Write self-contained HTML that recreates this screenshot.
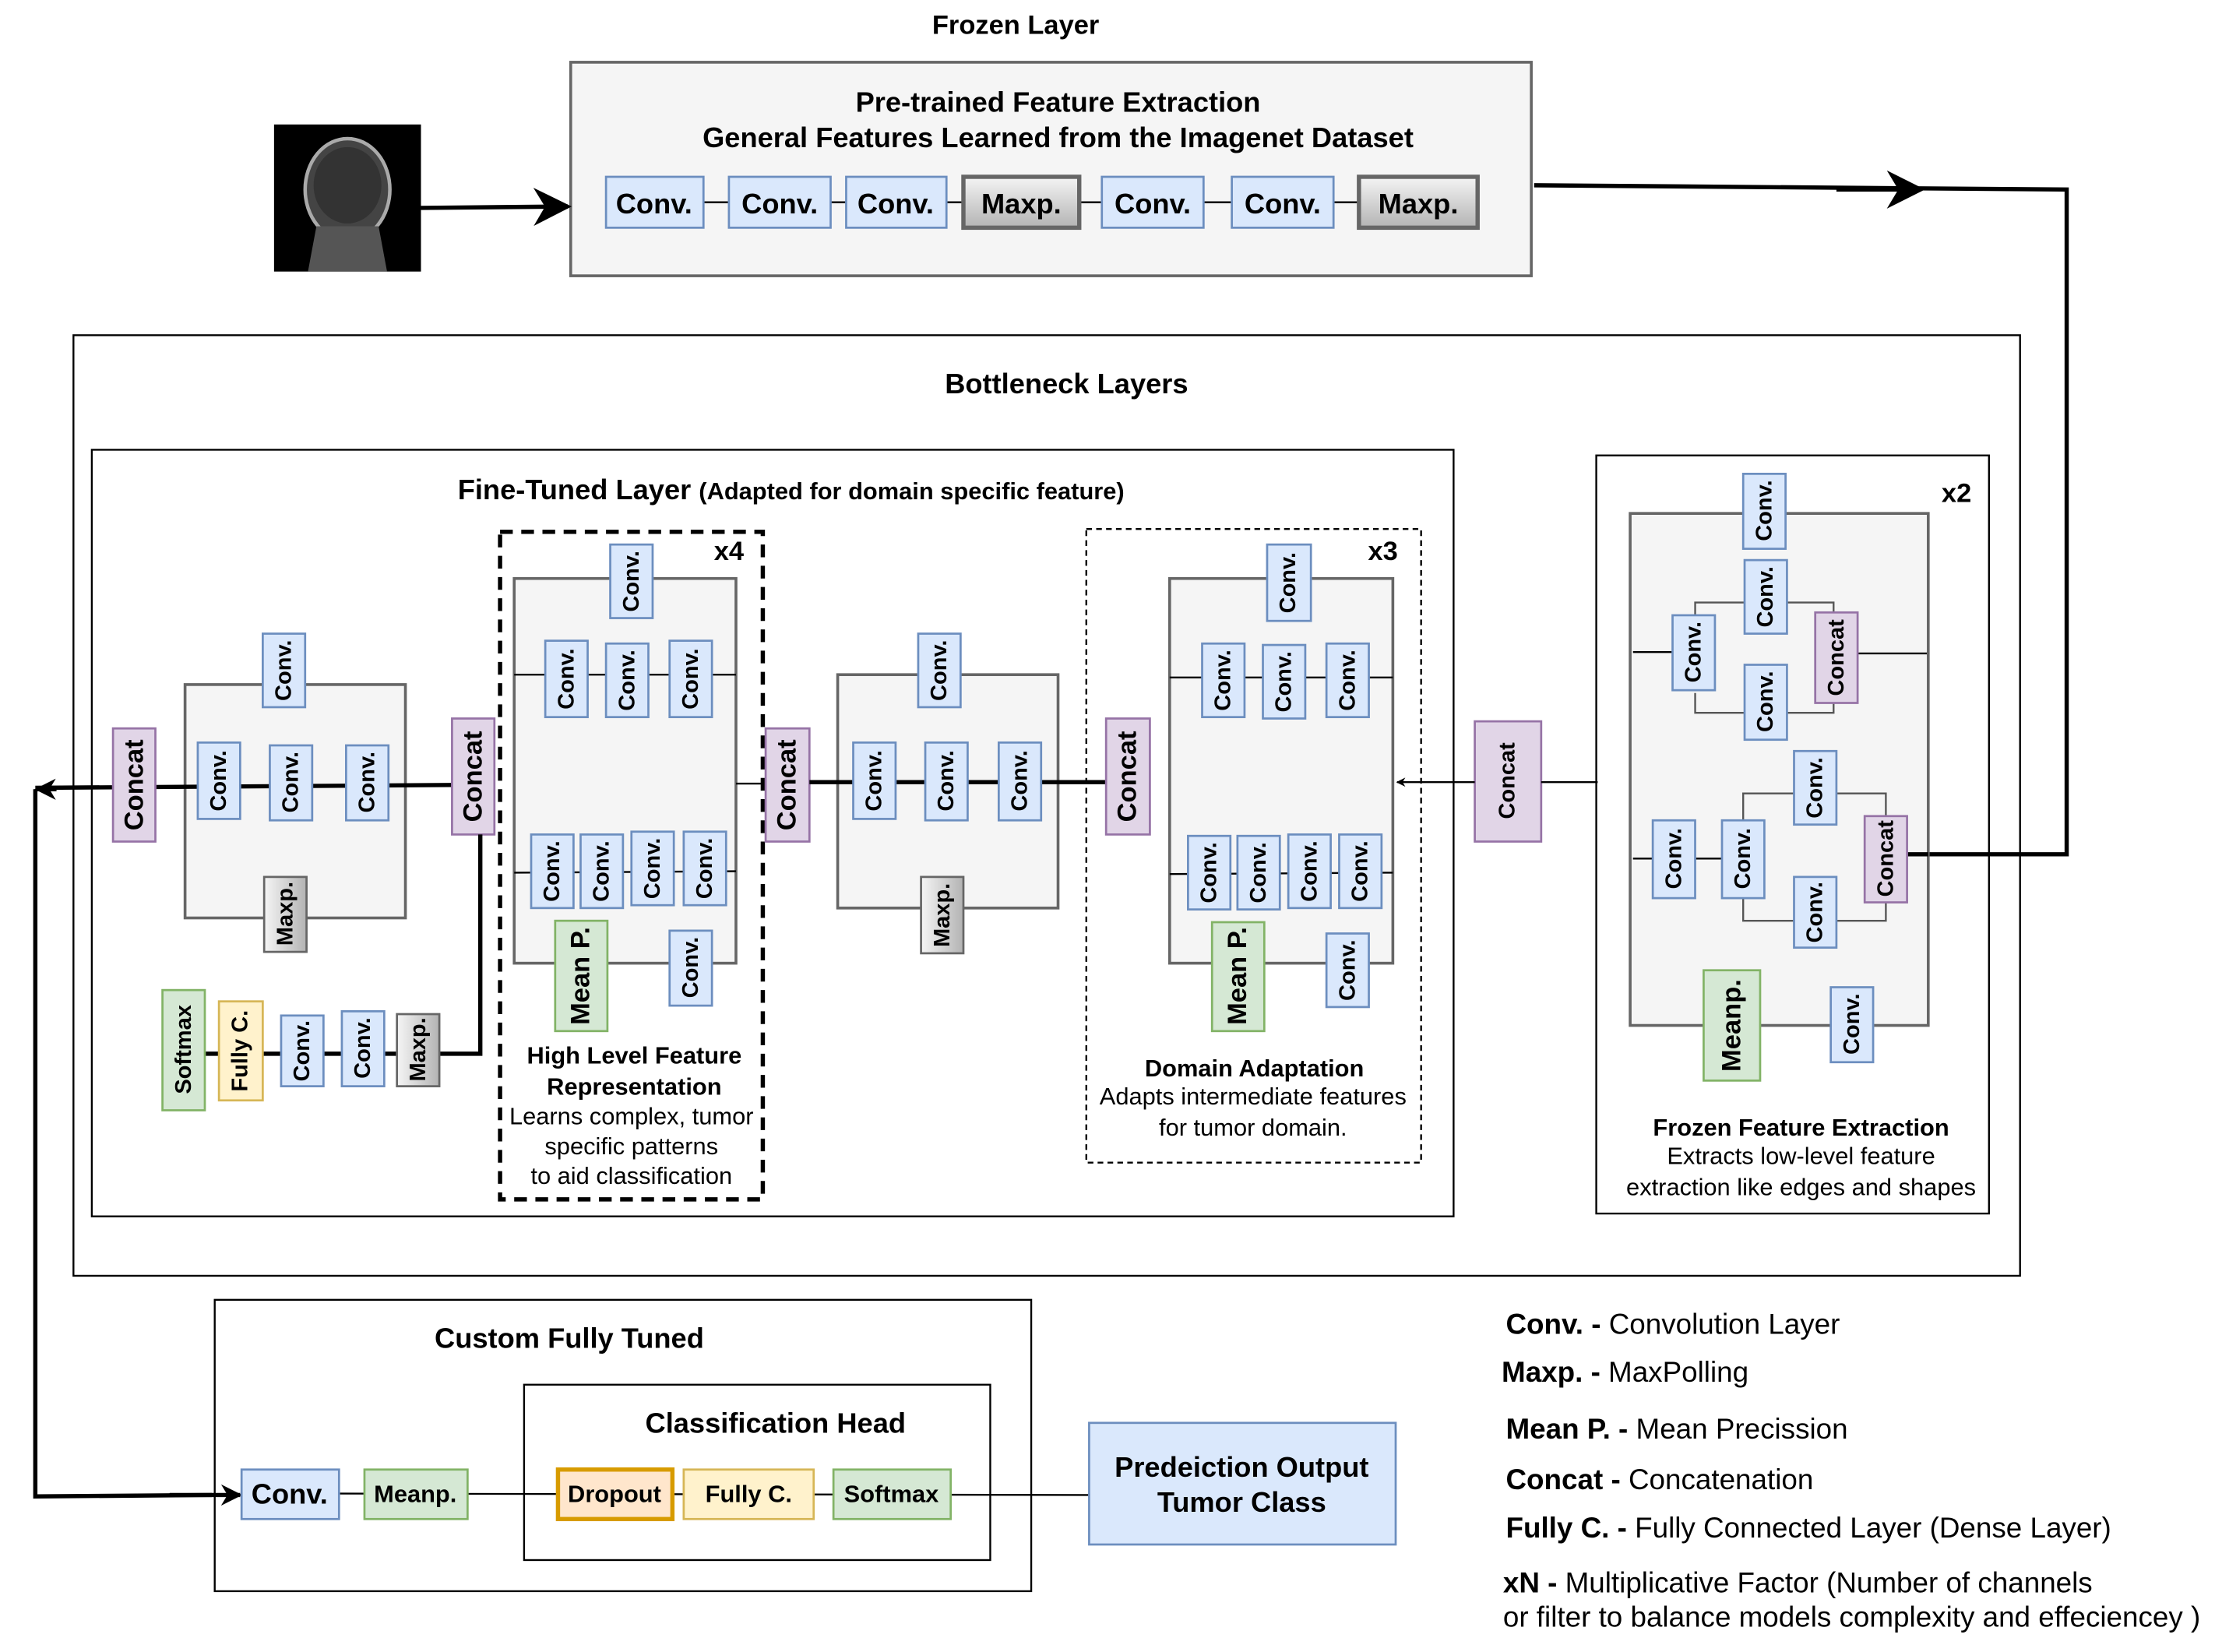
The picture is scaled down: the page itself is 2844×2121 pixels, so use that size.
<!DOCTYPE html>
<html><head><meta charset="utf-8"><style>
html,body{margin:0;padding:0;background:#fff}
svg{display:block}
text{font-family:"Liberation Sans",sans-serif;fill:#000}
.b{font-weight:bold}
.cv{fill:#dae8fc;stroke:#6c8ebf;stroke-width:1.5}
.cc{fill:#e1d5e7;stroke:#9673a6;stroke-width:1.5}
.mx{fill:url(#g);stroke:#666;stroke-width:1.5}
.gr{fill:#d5e8d4;stroke:#82b366;stroke-width:1.5}
.ye{fill:#fff2cc;stroke:#d6b656;stroke-width:1.5}
.or{fill:#ffe6cc;stroke:#d79b00;stroke-width:3}
.gb{fill:#f5f5f5;stroke:#666;stroke-width:2}
.ln{stroke:#000;stroke-width:1.3;fill:none}
.tk{stroke:#000;stroke-width:3;fill:none}
.gl{stroke:#555;stroke-width:1.3;fill:none}
.v{font-weight:bold;font-size:16px}
.vc{font-weight:bold;font-size:19px}
</style></head><body>
<svg width="2844" height="2121" viewBox="0 0 1568 1168" preserveAspectRatio="none" xmlns="http://www.w3.org/2000/svg">
<defs>
<linearGradient id="g" x1="0" y1="0" x2="1" y2="0"><stop offset="0" stop-color="#f5f5f5"/><stop offset="1" stop-color="#b3b3b3"/></linearGradient>
<linearGradient id="g2" x1="0" y1="0" x2="0" y2="1"><stop offset="0" stop-color="#f5f5f5"/><stop offset="1" stop-color="#b3b3b3"/></linearGradient>
<marker id="ar" viewBox="0 0 10 10" refX="9" refY="5" markerWidth="5" markerHeight="5" orient="auto-start-reverse"><path d="M0,0 L10,5 L0,10 L3,5 z" fill="#000"/></marker>
<marker id="ar2" viewBox="0 0 10 10" refX="9" refY="5" markerWidth="9" markerHeight="9" orient="auto"><path d="M0,0 L10,5 L0,10 L3,5 z" fill="#000"/></marker>
</defs>

<!-- Frozen layer -->
<text x="719" y="24" text-anchor="middle" class="b" font-size="19">Frozen Layer</text>
<rect x="404" y="44" width="680" height="151" class="gb" stroke-width="1.3"/>
<text x="749" y="79" text-anchor="middle" class="b" font-size="20">Pre-trained Feature Extraction</text>
<text x="749" y="104" text-anchor="middle" class="b" font-size="20">General Features Learned from the Imagenet Dataset</text>
<line x1="498" y1="143" x2="962" y2="143" class="ln"/>
<g font-size="20" font-weight="bold" text-anchor="middle">
<rect x="429" y="125" width="69" height="36" class="cv" stroke-width="3"/><text x="463" y="151">Conv.</text>
<rect x="516" y="125" width="72" height="36" class="cv" stroke-width="3"/><text x="552" y="151">Conv.</text>
<rect x="599" y="125" width="71" height="36" class="cv" stroke-width="3"/><text x="634" y="151">Conv.</text>
<rect x="682" y="125" width="82" height="36" fill="url(#g2)" stroke="#666" stroke-width="3"/><text x="723" y="151">Maxp.</text>
<rect x="780" y="125" width="72" height="36" class="cv" stroke-width="3"/><text x="816" y="151">Conv.</text>
<rect x="872" y="125" width="72" height="36" class="cv" stroke-width="3"/><text x="908" y="151">Conv.</text>
<rect x="962" y="125" width="84" height="36" fill="url(#g2)" stroke="#666" stroke-width="3"/><text x="1004" y="151">Maxp.</text>
</g>
<!-- MRI -->
<rect x="194" y="88" width="104" height="104" fill="#000"/>
<ellipse cx="246" cy="134" rx="30" ry="36" fill="#444" stroke="#aaa" stroke-width="2.5"/>
<ellipse cx="246" cy="131" rx="24" ry="27" fill="#333"/>
<path d="M224,160 L268,160 L274,192 L218,192 z" fill="#555"/>
<line x1="298" y1="147" x2="402" y2="146" class="tk" marker-end="url(#ar2)" stroke-width="3.5"/>
<polyline points="1086,131 1463,134 1463,604 1362,604" class="tk"/>
<line x1="1300" y1="134" x2="1360" y2="134" class="tk" marker-end="url(#ar2)"/>

<!-- Bottleneck -->
<rect x="52" y="237" width="1378" height="665" fill="none" stroke="#000" stroke-width="1.3"/>
<text x="755" y="278" text-anchor="middle" class="b" font-size="20">Bottleneck Layers</text>
<rect x="65" y="318" width="964" height="542" fill="none" stroke="#000" stroke-width="1.3"/>
<text x="560" y="353" text-anchor="middle" class="b" font-size="20">Fine-Tuned Layer <tspan font-size="17">(Adapted for domain specific feature)</tspan></text>

<!-- left block -->
<rect x="131" y="484" width="156" height="165" class="gb"/>
<line x1="25" y1="557" x2="320" y2="555" class="tk" stroke-width="3.5"/>
<line x1="40" y1="558" x2="26" y2="558" class="tk" marker-end="url(#ar)"/>
<rect x="186" y="448" width="30" height="52" class="cv"/><text class="v" transform="translate(201,474) rotate(-90)" text-anchor="middle" dominant-baseline="central">Conv.</text>
<rect x="140" y="525" width="30" height="54" class="cv"/><text class="v" transform="translate(155,552) rotate(-90)" text-anchor="middle" dominant-baseline="central">Conv.</text>
<rect x="191" y="527" width="30" height="53" class="cv"/><text class="v" transform="translate(206,553) rotate(-90)" text-anchor="middle" dominant-baseline="central">Conv.</text>
<rect x="245" y="527" width="30" height="53" class="cv"/><text class="v" transform="translate(260,553) rotate(-90)" text-anchor="middle" dominant-baseline="central">Conv.</text>
<rect x="187" y="620" width="30" height="53" class="mx"/><text class="v" font-size="15" transform="translate(202,646) rotate(-90)" text-anchor="middle" dominant-baseline="central">Maxp.</text>
<rect x="80" y="515" width="30" height="80" class="cc"/><text class="vc" transform="translate(95,555) rotate(-90)" text-anchor="middle" dominant-baseline="central">Concat</text>
<rect x="320" y="508" width="30" height="82" class="cc"/><text class="vc" transform="translate(335,549) rotate(-90)" text-anchor="middle" dominant-baseline="central">Concat</text>
<polyline points="145,745 340,745 340,590" class="tk"/>
<rect x="115" y="700" width="30" height="85" class="gr"/><text class="v" font-size="15" transform="translate(130,742) rotate(-90)" text-anchor="middle" dominant-baseline="central">Softmax</text>
<rect x="155" y="708" width="31" height="70" class="ye"/><text class="v" transform="translate(170,743) rotate(-90)" text-anchor="middle" dominant-baseline="central">Fully C.</text>
<rect x="199" y="718" width="30" height="50" class="cv"/><text class="v" transform="translate(214,743) rotate(-90)" text-anchor="middle" dominant-baseline="central">Conv.</text>
<rect x="242" y="715" width="30" height="53" class="cv"/><text class="v" transform="translate(257,741) rotate(-90)" text-anchor="middle" dominant-baseline="central">Conv.</text>
<rect x="281" y="717" width="30" height="51" class="mx"/><text class="v" font-size="15" transform="translate(296,742) rotate(-90)" text-anchor="middle" dominant-baseline="central">Maxp.</text>

<!-- x4 block -->
<rect x="354" y="376" width="186" height="472" fill="none" stroke="#000" stroke-width="3" stroke-dasharray="9,6"/>
<text x="516" y="396" text-anchor="middle" class="b" font-size="19">x4</text>
<rect x="364" y="409" width="157" height="272" class="gb" stroke-width="1.5"/>
<line x1="364" y1="477" x2="521" y2="477" class="ln"/>
<line x1="364" y1="617" x2="521" y2="616" class="ln"/>
<line x1="521" y1="554" x2="542" y2="554" class="ln"/>
<rect x="432" y="385" width="30" height="52" class="cv"/><text class="v" transform="translate(447,411) rotate(-90)" text-anchor="middle" dominant-baseline="central">Conv.</text>
<rect x="386" y="453" width="30" height="54" class="cv"/><text class="v" transform="translate(401,480) rotate(-90)" text-anchor="middle" dominant-baseline="central">Conv.</text>
<rect x="429" y="455" width="30" height="52" class="cv"/><text class="v" transform="translate(444,481) rotate(-90)" text-anchor="middle" dominant-baseline="central">Conv.</text>
<rect x="474" y="453" width="30" height="54" class="cv"/><text class="v" transform="translate(489,480) rotate(-90)" text-anchor="middle" dominant-baseline="central">Conv.</text>
<rect x="376" y="590" width="30" height="52" class="cv"/><text class="v" transform="translate(391,616) rotate(-90)" text-anchor="middle" dominant-baseline="central">Conv.</text>
<rect x="411" y="590" width="30" height="52" class="cv"/><text class="v" transform="translate(426,616) rotate(-90)" text-anchor="middle" dominant-baseline="central">Conv.</text>
<rect x="447" y="588" width="30" height="52" class="cv"/><text class="v" transform="translate(462,614) rotate(-90)" text-anchor="middle" dominant-baseline="central">Conv.</text>
<rect x="484" y="588" width="30" height="52" class="cv"/><text class="v" transform="translate(499,614) rotate(-90)" text-anchor="middle" dominant-baseline="central">Conv.</text>
<rect x="393" y="651" width="37" height="78" class="gr"/><text class="vc" transform="translate(411,690) rotate(-90)" text-anchor="middle" dominant-baseline="central">Mean P.</text>
<rect x="474" y="658" width="30" height="53" class="cv"/><text class="v" transform="translate(489,684) rotate(-90)" text-anchor="middle" dominant-baseline="central">Conv.</text>
<g text-anchor="middle" font-size="17">
<text x="449" y="752" class="b">High Level Feature</text>
<text x="449" y="774" class="b">Representation</text>
<text x="447" y="795">Learns complex, tumor</text>
<text x="447" y="816">specific patterns</text>
<text x="447" y="837">to aid classification</text>
</g>

<!-- middle -->
<rect x="542" y="515" width="31" height="80" class="cc"/><text class="vc" transform="translate(557,555) rotate(-90)" text-anchor="middle" dominant-baseline="central">Concat</text>
<rect x="593" y="477" width="156" height="165" class="gb"/>
<line x1="573" y1="553" x2="783" y2="553" class="tk"/>
<rect x="650" y="448" width="30" height="52" class="cv"/><text class="v" transform="translate(665,474) rotate(-90)" text-anchor="middle" dominant-baseline="central">Conv.</text>
<rect x="604" y="525" width="30" height="54" class="cv"/><text class="v" transform="translate(619,552) rotate(-90)" text-anchor="middle" dominant-baseline="central">Conv.</text>
<rect x="655" y="525" width="30" height="55" class="cv"/><text class="v" transform="translate(670,552) rotate(-90)" text-anchor="middle" dominant-baseline="central">Conv.</text>
<rect x="707" y="525" width="30" height="55" class="cv"/><text class="v" transform="translate(722,552) rotate(-90)" text-anchor="middle" dominant-baseline="central">Conv.</text>
<rect x="652" y="620" width="30" height="54" class="mx"/><text class="v" font-size="15" transform="translate(667,647) rotate(-90)" text-anchor="middle" dominant-baseline="central">Maxp.</text>
<rect x="783" y="508" width="31" height="82" class="cc"/><text class="vc" transform="translate(798,549) rotate(-90)" text-anchor="middle" dominant-baseline="central">Concat</text>

<!-- x3 -->
<rect x="769" y="374" width="237" height="448" fill="none" stroke="#000" stroke-width="1.3" stroke-dasharray="4,3"/>
<text x="979" y="396" text-anchor="middle" class="b" font-size="19">x3</text>
<rect x="828" y="409" width="158" height="272" class="gb" stroke-width="3"/>
<line x1="828" y1="479" x2="986" y2="479" class="ln"/>
<line x1="828" y1="618" x2="986" y2="617" class="ln"/>
<rect x="897" y="385" width="31" height="54" class="cv" stroke-width="2.5"/><text class="v" transform="translate(912,412) rotate(-90)" text-anchor="middle" dominant-baseline="central">Conv.</text>
<rect x="851" y="455" width="30" height="52" class="cv"/><text class="v" transform="translate(866,481) rotate(-90)" text-anchor="middle" dominant-baseline="central">Conv.</text>
<rect x="894" y="456" width="30" height="52" class="cv"/><text class="v" transform="translate(909,482) rotate(-90)" text-anchor="middle" dominant-baseline="central">Conv.</text>
<rect x="939" y="455" width="30" height="52" class="cv"/><text class="v" transform="translate(954,481) rotate(-90)" text-anchor="middle" dominant-baseline="central">Conv.</text>
<rect x="841" y="591" width="30" height="52" class="cv"/><text class="v" transform="translate(856,617) rotate(-90)" text-anchor="middle" dominant-baseline="central">Conv.</text>
<rect x="876" y="591" width="30" height="52" class="cv"/><text class="v" transform="translate(891,617) rotate(-90)" text-anchor="middle" dominant-baseline="central">Conv.</text>
<rect x="912" y="590" width="30" height="52" class="cv"/><text class="v" transform="translate(927,616) rotate(-90)" text-anchor="middle" dominant-baseline="central">Conv.</text>
<rect x="948" y="590" width="30" height="52" class="cv"/><text class="v" transform="translate(963,616) rotate(-90)" text-anchor="middle" dominant-baseline="central">Conv.</text>
<rect x="858" y="652" width="37" height="77" class="gr" stroke-width="2.5"/><text class="vc" transform="translate(876,690) rotate(-90)" text-anchor="middle" dominant-baseline="central">Mean P.</text>
<rect x="939" y="660" width="30" height="52" class="cv" stroke-width="2.5"/><text class="v" transform="translate(954,686) rotate(-90)" text-anchor="middle" dominant-baseline="central">Conv.</text>
<g text-anchor="middle" font-size="17">
<text x="888" y="761" class="b">Domain Adaptation</text>
<text x="887" y="781">Adapts intermediate features</text>
<text x="887" y="803">for tumor domain.</text>
</g>
<rect x="1044" y="510" width="47" height="85" class="cc"/><text class="v" font-size="17" transform="translate(1067,552) rotate(-90)" text-anchor="middle" dominant-baseline="central">Concat</text>
<line x1="1044" y1="553" x2="989" y2="553" class="ln" marker-end="url(#ar)" stroke-width="1.8"/>
<line x1="1091" y1="553" x2="1131" y2="553" class="ln"/>

<!-- right -->
<rect x="1130" y="322" width="278" height="536" fill="none" stroke="#000" stroke-width="1.3"/>
<text x="1385" y="355" text-anchor="middle" class="b" font-size="19">x2</text>
<rect x="1154" y="363" width="211" height="362" class="gb" stroke-width="4"/>
<polyline points="1200,448 1200,426 1298,426 1298,448" class="gl"/>
<polyline points="1200,490 1200,504 1298,504 1298,490" class="gl"/>
<line x1="1156" y1="461" x2="1184" y2="461" class="ln"/>
<line x1="1315" y1="462" x2="1364" y2="462" class="ln"/>
<polyline points="1234,590 1234,561 1335,561 1335,590" class="gl"/>
<polyline points="1234,630 1234,651 1335,651 1335,630" class="gl"/>
<line x1="1156" y1="607" x2="1219" y2="607" class="ln"/>
<line x1="1350" y1="604" x2="1365" y2="604" class="tk"/>
<rect x="1234" y="335" width="30" height="53" class="cv"/><text class="v" transform="translate(1249,361) rotate(-90)" text-anchor="middle" dominant-baseline="central">Conv.</text>
<rect x="1184" y="435" width="30" height="53" class="cv"/><text class="v" transform="translate(1199,461) rotate(-90)" text-anchor="middle" dominant-baseline="central">Conv.</text>
<rect x="1235" y="396" width="30" height="52" class="cv"/><text class="v" transform="translate(1250,422) rotate(-90)" text-anchor="middle" dominant-baseline="central">Conv.</text>
<rect x="1235" y="470" width="30" height="53" class="cv"/><text class="v" transform="translate(1250,496) rotate(-90)" text-anchor="middle" dominant-baseline="central">Conv.</text>
<rect x="1285" y="433" width="30" height="64" class="cc"/><text class="v" transform="translate(1300,465) rotate(-90)" text-anchor="middle" dominant-baseline="central">Concat</text>
<rect x="1170" y="580" width="30" height="55" class="cv"/><text class="v" transform="translate(1185,607) rotate(-90)" text-anchor="middle" dominant-baseline="central">Conv.</text>
<rect x="1219" y="580" width="30" height="55" class="cv"/><text class="v" transform="translate(1234,607) rotate(-90)" text-anchor="middle" dominant-baseline="central">Conv.</text>
<rect x="1270" y="531" width="30" height="52" class="cv"/><text class="v" transform="translate(1285,557) rotate(-90)" text-anchor="middle" dominant-baseline="central">Conv.</text>
<rect x="1270" y="620" width="30" height="50" class="cv"/><text class="v" transform="translate(1285,645) rotate(-90)" text-anchor="middle" dominant-baseline="central">Conv.</text>
<rect x="1320" y="577" width="30" height="61" class="cc"/><text class="v" transform="translate(1335,607) rotate(-90)" text-anchor="middle" dominant-baseline="central">Concat</text>
<rect x="1206" y="686" width="40" height="78" class="gr"/><text class="vc" transform="translate(1226,725) rotate(-90)" text-anchor="middle" dominant-baseline="central">Meanp.</text>
<rect x="1296" y="698" width="30" height="53" class="cv"/><text class="v" transform="translate(1311,724) rotate(-90)" text-anchor="middle" dominant-baseline="central">Conv.</text>
<g text-anchor="middle" font-size="17">
<text x="1275" y="803" class="b">Frozen Feature Extraction</text>
<text x="1275" y="823">Extracts low-level feature</text>
<text x="1275" y="845">extraction like edges and shapes</text>
</g>

<!-- left connector down -->
<polyline points="25,558 25,1058 150,1057" class="tk"/>
<line x1="120" y1="1057" x2="170" y2="1057" class="tk" marker-end="url(#ar)"/>

<!-- custom -->
<rect x="152" y="919" width="578" height="206" fill="none" stroke="#000" stroke-width="1.3"/>
<text x="403" y="953" text-anchor="middle" class="b" font-size="20">Custom Fully Tuned</text>
<rect x="371" y="979" width="330" height="124" fill="none" stroke="#000" stroke-width="1.3"/>
<text x="549" y="1013" text-anchor="middle" class="b" font-size="20">Classification Head</text>
<line x1="240" y1="1056" x2="771" y2="1057" class="ln"/>
<rect x="171" y="1039" width="69" height="35" class="cv" stroke-width="3"/><text x="205" y="1063" text-anchor="middle" class="b" font-size="20">Conv.</text>
<rect x="258" y="1039" width="73" height="35" class="gr" stroke-width="3"/><text x="294" y="1062" text-anchor="middle" class="b" font-size="17">Meanp.</text>
<rect x="395" y="1039" width="81" height="35" class="or"/><text x="435" y="1062" text-anchor="middle" class="b" font-size="17">Dropout</text>
<rect x="484" y="1039" width="92" height="35" class="ye" stroke-width="3"/><text x="530" y="1062" text-anchor="middle" class="b" font-size="17">Fully C.</text>
<rect x="590" y="1039" width="83" height="35" class="gr" stroke-width="3"/><text x="631" y="1062" text-anchor="middle" class="b" font-size="17">Softmax</text>
<rect x="771" y="1006" width="217" height="86" fill="#dae8fc" stroke="#6c8ebf" stroke-width="1.5"/>
<text x="879" y="1044" text-anchor="middle" class="b" font-size="20">Predeiction Output</text>
<text x="879" y="1069" text-anchor="middle" class="b" font-size="20">Tumor Class</text>

<!-- legend -->
<g font-size="20.3">
<text x="1066" y="943"><tspan class="b">Conv. -</tspan> Convolution Layer</text>
<text x="1063" y="977"><tspan class="b">Maxp. -</tspan> MaxPolling</text>
<text x="1066" y="1017"><tspan class="b">Mean P. -</tspan> Mean Precission</text>
<text x="1066" y="1053"><tspan class="b">Concat -</tspan> Concatenation</text>
<text x="1066" y="1087"><tspan class="b">Fully C. -</tspan> Fully Connected Layer (Dense Layer)</text>
<text x="1064" y="1126"><tspan class="b">xN -</tspan> Multiplicative Factor (Number of channels</text>
<text x="1064" y="1150">or filter to balance models complexity and effeciencey )</text>
</g>
</svg>
</body></html>
